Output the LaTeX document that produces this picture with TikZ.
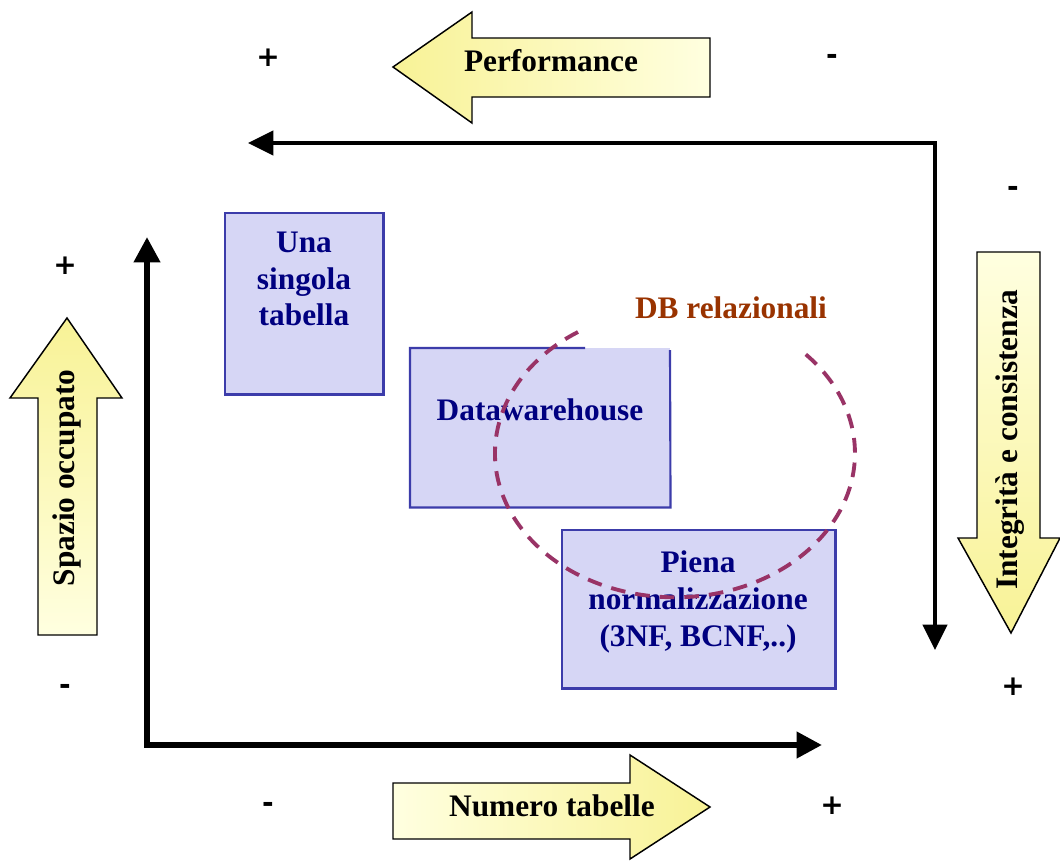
\documentclass[tikz,border=0pt]{standalone}
\usepackage{fontspec}
\setmainfont{Liberation Serif}
\newfontfamily\signfont{DejaVu Sans}
\usetikzlibrary{arrows.meta}

\definecolor{boxfill}{RGB}{214,214,245}
\definecolor{boxline}{RGB}{60,60,170}
\definecolor{boxtext}{RGB}{0,0,128}
\definecolor{ringcol}{RGB}{153,51,102}
\definecolor{dbtext}{RGB}{153,51,0}
\definecolor{arrowdeep}{RGB}{248,242,150}
\definecolor{arrowlight}{RGB}{255,255,224}

\tikzset{
  bigarrow/.style={draw=black, line width=1.1pt, line join=miter},
  label/.style={font=\fontsize{23.5}{27.5}\selectfont\bfseries, inner sep=0pt, align=center},
  sign/.style={font=\signfont\fontsize{21}{25}\selectfont\bfseries, inner sep=0pt},
  boxtxt/.style={label, text=boxtext},
  tablebox/.style={fill=boxfill, inner sep=0pt, anchor=north west},
  boxedge/.style={draw=boxline, line width=1.6pt},
  axisthick/.style={line width=4.5pt, line join=miter,
    {Triangle[length=19pt,width=19pt]}-{Triangle[length=19pt,width=19pt]}},
  axisthin/.style={line width=3.2pt, line join=miter,
    {Triangle[length=19pt,width=18pt]}-{Triangle[length=19pt,width=18pt]}},
  ring/.style={draw=ringcol, line width=2.9pt, dash pattern=on 11pt off 7.5pt}
}

\begin{document}
\begin{tikzpicture}[x=0.75pt, y=-0.75pt]
\useasboundingbox[fill=white] (0,0) rectangle (1060,864);

% block arrows
\draw[bigarrow, left color=arrowdeep, right color=arrowlight]
  (393,67) -- (472,12) -- (472,38) -- (710,38) -- (710,97) -- (472,97) -- (472,123) -- cycle;
\node[label] (perf) at (551,61) {Performance};

\draw[bigarrow, top color=arrowdeep, bottom color=arrowlight]
  (67,318) -- (122,398) -- (97,398) -- (97,635) -- (38,635) -- (38,398) -- (10,398) -- cycle;
\node[label, rotate=90] (spazio) at (67,478) {Spazio occupato};

\draw[bigarrow, bottom color=arrowdeep, top color=arrowlight]
  (977,252) -- (1040,252) -- (1040,538) -- (1060,538) -- (1011,633) -- (958,538) -- (977,538) -- cycle;
\node[label, rotate=90] (integr) at (1010,440) {Integrità e consistenza};

\draw[bigarrow, right color=arrowdeep, left color=arrowlight]
  (393,783) -- (630,783) -- (630,755) -- (710,807) -- (630,859) -- (630,839) -- (393,839) -- cycle;
\node[label] (numero) at (552,806) {Numero tabelle};

% signs
\node[sign] (pPlus) at (268,58) {+};
\node[sign] (pMinus) at (832,59) {-};
\node[sign] (iMinus) at (1013,191) {-};
\node[sign] (iPlus) at (1013,687) {+};
\node[sign] (sPlus) at (65,266) {+};
\node[sign] (sMinus) at (65,689) {-};
\node[sign] (nMinus) at (268,807) {-};
\node[sign] (nPlus) at (832,806) {+};

% axes
\coordinate (ytip) at (147,237);
\coordinate (origin) at (147,745);
\coordinate (xtip) at (822,745);
\draw[axisthick] (ytip) -- (origin) -- (xtip);

\coordinate (ltip) at (248,143);
\coordinate (corner) at (935,143);
\coordinate (dtip) at (935,650);
\draw[axisthin] (ltip) -- (corner) -- (dtip);

% table boxes
\node[tablebox, minimum width=158*0.75pt, minimum height=181*0.75pt] (una) at (225,213) {};
\draw[boxedge] (una.north west) rectangle (una.south east);
\node[boxtxt] (unatxt) at (304,279) {Una\\singola\\tabella};

\node[tablebox, minimum width=260*0.75pt, minimum height=159*0.75pt] (dw) at (410,348) {};
\draw[boxedge] (585,348) -- (dw.north west) -- (dw.south west) -- (dw.south east) -- (670,350);
\node[boxtxt] (dwtxt) at (540,410) {Datawarehouse};

\node[tablebox, minimum width=273*0.75pt, minimum height=158*0.75pt] (piena) at (562,530) {};
\draw[boxedge] (piena.north west) rectangle (piena.south east);
\node[boxtxt] (pienatxt) at (698,602) {Piena\\normalizzazione\\(3NF, BCNF,..)};

% relational databases region
\draw[ring] (578,332) arc[start angle=237.4, end angle=-43.8, x radius=180, y radius=144];
\node[label, text=dbtext] (db) at (731,308) {DB relazionali};

\end{tikzpicture}
\end{document}
